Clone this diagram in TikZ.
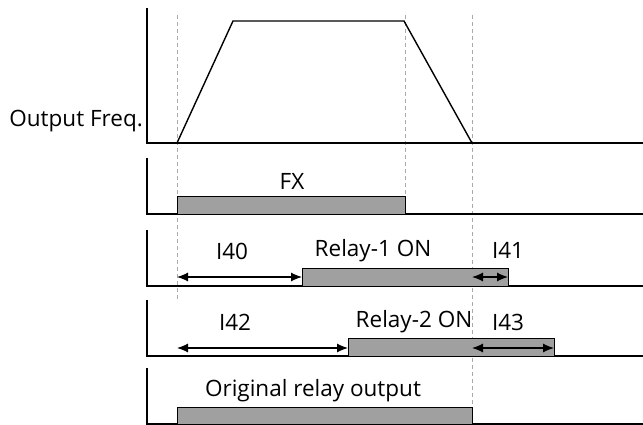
\documentclass[tikz,border=0pt]{standalone}
\usepackage{fontspec}
\setmainfont{Open Sans}
\usetikzlibrary{arrows.meta}
\definecolor{barfill}{RGB}{160,160,160}
\definecolor{dashgray}{RGB}{170,170,170}
\tikzset{
  axisline/.style={line width=1.6pt,black},
  guide/.style={dashgray,dash pattern=on 4pt off 3pt,line width=0.7pt},
  bar/.style={draw=black,line width=0.8pt,fill=barfill},
  lbl/.style={font=\fontsize{22.5}{25}\selectfont,inner sep=0pt},
  dim/.style={{Latex[length=11pt,width=9pt]}-{Latex[length=11pt,width=9pt]},line width=1.1pt},
  wave/.style={line width=1.4pt,line join=miter}
}
\begin{document}
\begin{tikzpicture}[x=1pt,y=-1pt]
\useasboundingbox (0,0) rectangle (643,425);
% guide lines
\draw[guide] (177,15) -- (177,300);
\draw[guide] (405,15) -- (405,196);
\draw[guide] (472,15) -- (472,407);
% axes
\draw[axisline] (147,8) -- (147,143) -- (643,143);
\draw[axisline] (147,158) -- (147,214) -- (643,214);
\draw[axisline] (147,230) -- (147,286) -- (643,286);
\draw[axisline] (147,300) -- (147,356) -- (643,356);
\draw[axisline] (147,368) -- (147,424) -- (643,424);
% trapezoid
\coordinate (t0) at (177,143);
\coordinate (t1) at (233,21);
\coordinate (t2) at (404,21);
\coordinate (t3) at (472,143);
\draw[wave] (t0) -- (t1) -- (t2) -- (t3);
% bars
\draw[bar] (177,214) rectangle (405,196);
\draw[bar] (302,286) rectangle (508,268);
\draw[bar] (348,356) rectangle (554,338);
\draw[bar] (177,424) rectangle (472,407);
% dimension arrows
\coordinate (a0) at (177,277); \coordinate (a1) at (302,277);
\coordinate (b0) at (472,277); \coordinate (b1) at (508,277);
\coordinate (c0) at (177,348); \coordinate (c1) at (348,348);
\coordinate (d0) at (472,348); \coordinate (d1) at (554,348);
\draw[dim] (a0) -- (a1);
\draw[dim] (b0) -- (b1);
\draw[dim] (c0) -- (c1);
\draw[dim] (d0) -- (d1);
% labels
\node[lbl,anchor=east] (of) at (143,121) {Output Freq.};
\node[lbl] (fx) at (292,181) {FX};
\node[lbl] (i40) at (232,251) {I40};
\node[lbl] (r1) at (373,251) {Relay-1 ON};
\node[lbl] (i41) at (508,250) {I41};
\node[lbl] (i42) at (235,322) {I42};
\node[lbl] (r2) at (414,322) {Relay-2 ON};
\node[lbl] (i43) at (508,322) {I43};
\node[lbl] (orig) at (313,391) {Original relay output};
\end{tikzpicture}
\end{document}
